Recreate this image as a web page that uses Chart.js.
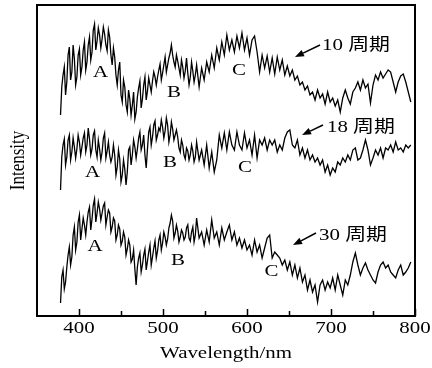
<!DOCTYPE html>
<html>
<head>
<meta charset="utf-8">
<script src="https://cdn.jsdelivr.net/npm/chart.js@4"></script>
<style>
    body { margin: 0; background: #fff; }
    #wrap { width: 432px; height: 368px; }
</style>
</head>
<body>
<div id="wrap"><canvas id="spectraChart"></canvas></div>
<script>
// sampled finer in the noisy short-wavelength part
const wavelengths = [378, 379.5, 381, 382.5, 384, 385.5, 387, 388.5, 390, 391.5, 393, 394.5, 396, 397.5, 399, 400.5,
    402, 403.5, 405, 406.5, 408, 409.5, 411, 412.5, 414, 415.5, 417, 418.5, 420, 421.5, 423, 424.5,
    426, 427.5, 429, 430.5, 432, 433.5, 435, 436.5, 438, 439.5, 441, 442.5, 444, 445.5, 447, 448.5,
    450, 451.5, 453, 454.5, 456, 457.5, 459, 460.5, 462, 463.5, 465, 466.5, 468, 469.5, 471, 472.5,
    474, 475.5, 477, 478.5, 480, 481.5, 483, 484.5, 486, 487.5, 489, 490.5, 492, 493.5, 495, 496.5,
    498, 499.5, 501, 502.5, 504, 505.5, 507, 508.5, 510, 511.5, 513, 514.5, 516, 517.5, 519, 520.5,
    522, 523.5, 525, 526.5, 528, 529.5, 531, 532.5, 534, 535.5, 537, 538.5, 540,
    543, 546, 549, 552, 555, 558, 561, 564, 567, 570, 573, 576, 579, 582, 585, 588, 591, 594, 597, 600,
    603, 606, 609, 612, 615, 618, 621, 624, 627, 630, 633, 636, 639, 642, 645, 648, 651, 654, 657, 660,
    663, 666, 669, 672, 675, 678, 681, 684, 687, 690, 693, 696, 699, 702, 705, 708, 711, 714, 717, 720,
    723, 726, 729, 732, 735, 738, 741, 744, 747, 750, 753, 756, 759, 762, 765, 768, 771, 774, 777, 780,
    783, 786, 789, 792, 795];

// intensity (arbitrary units, curves stacked with offsets as in the figure)
const cycles10 = [202, 230, 242, 250, 222, 235, 262, 270, 237, 245, 272, 258, 232, 240, 262, 268,
    242, 250, 267, 275, 247, 255, 272, 280, 257, 265, 287, 293, 267, 276, 289, 282,
    269, 278, 290, 283, 272, 266, 287, 280, 262, 252, 269, 260, 242, 232, 247, 255,
    222, 215, 237, 230, 212, 205, 227, 218, 202, 212, 225, 198, 205, 220, 229, 236,
    209, 218, 232, 240, 217, 226, 239, 232, 225, 236, 245, 240, 232, 240, 247, 253,
    237, 244, 252, 260, 245, 252, 259, 264, 272, 262, 255, 250, 262, 256, 249, 242,
    257, 250, 239, 246, 259, 244, 232, 240, 255, 246, 235, 242, 252,
    230, 249, 237, 255, 245, 262, 249, 269, 257, 275, 262, 282, 267, 277, 265, 281, 269, 284, 267, 279,
    262, 277, 281, 265, 245, 262, 249, 261, 245, 259, 243, 260, 247, 257, 242, 251, 241, 247, 237, 241,
    232, 235, 227, 231, 222, 225, 217, 227, 219, 223, 213, 225, 215, 219, 211, 217, 205, 219, 227, 219,
    213, 225, 229, 235, 227, 237, 229, 233, 214, 232, 242, 237, 245, 239, 243, 247, 245, 235, 225, 235,
    241, 243, 235, 225, 215];

const cycles18 = [127, 160, 172, 178, 152, 160, 177, 182, 157, 165, 179, 170, 159, 168, 182, 175,
    162, 170, 179, 184, 165, 172, 189, 178, 162, 168, 182, 186, 167, 160, 177, 168,
    157, 165, 179, 184, 159, 166, 175, 162, 155, 160, 172, 162, 142, 150, 167, 158,
    135, 142, 157, 148, 132, 145, 167, 170, 152, 162, 177, 170, 159, 168, 179, 185,
    167, 172, 182, 162, 149, 168, 185, 190, 172, 180, 192, 196, 177, 182, 189, 186,
    197, 190, 179, 186, 199, 192, 175, 182, 195, 188, 177, 182, 187, 180, 169, 165,
    177, 172, 162, 158, 169, 166, 157, 162, 172, 166, 155, 160, 175,
    157, 167, 152, 172, 149, 165, 145, 157, 182, 169, 184, 167, 185, 172, 167, 185, 172, 167, 184, 169,
    177, 162, 182, 159, 177, 172, 179, 167, 177, 172, 177, 165, 172, 167, 179, 185, 187, 172, 169, 177,
    162, 169, 159, 167, 157, 162, 155, 159, 152, 157, 145, 152, 142, 149, 145, 155, 152, 159, 155, 162,
    157, 167, 169, 157, 159, 167, 177, 167, 152, 159, 167, 162, 169, 159, 169, 167, 172, 165, 175, 167,
    169, 165, 172, 169, 172];

const cycles30 = [14, 40, 47, 28, 35, 50, 62, 70, 52, 60, 82, 90, 67, 75, 95, 102,
    77, 88, 99, 92, 82, 95, 105, 110, 87, 98, 112, 118, 95, 104, 115, 108,
    97, 104, 111, 114, 92, 100, 107, 104, 85, 90, 99, 96, 77, 82, 92, 88,
    72, 76, 85, 80, 62, 68, 77, 72, 55, 58, 67, 48, 32, 50, 59, 64,
    45, 52, 62, 68, 47, 56, 65, 72, 52, 60, 69, 76, 59, 66, 77, 82,
    67, 74, 85, 80, 72, 78, 89, 94, 102, 96, 79, 84, 92, 86, 75, 80,
    87, 84, 77, 80, 89, 92, 79, 76, 85, 90, 75, 82, 99,
    79, 85, 72, 87, 75, 97, 79, 85, 72, 89, 77, 85, 92, 77, 85, 72, 79, 69, 77, 67,
    72, 62, 77, 65, 72, 59, 69, 79, 82, 59, 65, 62, 59, 52, 57, 47, 55, 42, 52, 39,
    49, 35, 42, 27, 37, 25, 32, 15, 32, 37, 27, 35, 29, 39, 27, 42, 32, 22, 37, 32,
    42, 55, 64, 52, 42, 49, 54, 47, 42, 37, 34, 45, 52, 55, 49, 52, 45, 42, 39, 47,
    52, 42, 45, 49, 55];

const xMajorTicks = [400, 500, 600, 700, 800];
const xMinorTicks = [450, 550, 650, 750];

// peak letters: [text, wavelength, intensity]
const peakLabels = [
    ['A', 425.6, 246], ['B', 513.1, 226], ['C', 590.5, 248],
    ['A', 416.1, 146], ['B', 508.3, 156], ['C', 597.6, 151],
    ['A', 419.0, 72], ['B', 517.9, 58], ['C', 629.2, 47]
];

// curve names: [text, text x, text y, arrow tail x, tail y, tip x, tip y]
const curveLabels = [
    ['10 周期', 689.3, 267, 686.9, 272, 657.1, 260],
    ['18 周期', 695.2, 185, 690.5, 192, 665.5, 182],
    ['30 周期', 685.7, 77, 682.1, 84, 654.8, 72]
];

const FONT = '17px "Liberation Serif", "Noto Sans CJK SC", serif';
const STRETCH = 1.23;

function stretchedText(ctx, text, x, y, align) {
    ctx.save();
    ctx.translate(x, y);
    ctx.scale(STRETCH, 1);
    ctx.textAlign = align;
    ctx.fillText(text, 0, 0);
    ctx.restore();
}

const decorPlugin = {
    id: 'decor',
    afterDraw(chart) {
        const ctx = chart.ctx;
        const area = chart.chartArea;
        const xs = chart.scales.x;
        const ys = chart.scales.y;

        ctx.save();
        ctx.strokeStyle = '#000';
        ctx.fillStyle = '#000';

        // frame
        ctx.lineWidth = 2;
        ctx.strokeRect(area.left, area.top, area.right - area.left, area.bottom - area.top);

        // inward ticks on bottom axis
        ctx.lineWidth = 1.5;
        ctx.beginPath();
        xMajorTicks.forEach(v => {
            const px = Math.round(xs.getPixelForValue(v)) + 0.5;
            ctx.moveTo(px, area.bottom);
            ctx.lineTo(px, area.bottom - 7);
        });
        xMinorTicks.forEach(v => {
            const px = Math.round(xs.getPixelForValue(v)) + 0.5;
            ctx.moveTo(px, area.bottom);
            ctx.lineTo(px, area.bottom - 5);
        });
        ctx.stroke();

        ctx.font = FONT;
        ctx.textBaseline = 'alphabetic';
        xMajorTicks.forEach(v => {
            stretchedText(ctx, String(v), xs.getPixelForValue(v), area.bottom + 17, 'center');
        });
        stretchedText(ctx, 'Wavelength/nm', (area.left + area.right) / 2, area.bottom + 42, 'center');

        // y title
        ctx.save();
        ctx.translate(24, (area.top + area.bottom) / 2);
        ctx.scale(STRETCH, 1);
        ctx.rotate(-Math.PI / 2);
        ctx.textAlign = 'center';
        ctx.fillText('Intensity', 0, 0);
        ctx.restore();

        // peak letters
        peakLabels.forEach(([t, wl, h]) => {
            stretchedText(ctx, t, xs.getPixelForValue(wl), ys.getPixelForValue(h) + 6, 'center');
        });

        // curve names with arrows
        ctx.lineWidth = 1.5;
        curveLabels.forEach(([t, tx, ty, ax, ay, bx, by]) => {
            stretchedText(ctx, t, xs.getPixelForValue(tx), ys.getPixelForValue(ty), 'left');
            const x1 = xs.getPixelForValue(ax), y1 = ys.getPixelForValue(ay);
            const x2 = xs.getPixelForValue(bx), y2 = ys.getPixelForValue(by);
            const ang = Math.atan2(y2 - y1, x2 - x1);
            const len = 9, wid = 3.5;
            const bxp = x2 - len * Math.cos(ang), byp = y2 - len * Math.sin(ang);
            ctx.beginPath();
            ctx.moveTo(x1, y1);
            ctx.lineTo(bxp, byp);
            ctx.stroke();
            ctx.beginPath();
            ctx.moveTo(x2, y2);
            ctx.lineTo(bxp + wid * Math.sin(ang), byp - wid * Math.cos(ang));
            ctx.lineTo(bxp - wid * Math.sin(ang), byp + wid * Math.cos(ang));
            ctx.closePath();
            ctx.fill();
        });

        ctx.restore();
    }
};

function series(values) {
    return {
        data: values.map((v, i) => ({ x: wavelengths[i], y: v })),
        borderColor: '#000',
        borderWidth: 1.3,
        pointRadius: 0,
        tension: 0,
        fill: false
    };
}

new Chart(document.getElementById('spectraChart'), {
    type: 'line',
    data: {
        datasets: [series(cycles10), series(cycles18), series(cycles30)]
    },
    options: {
        responsive: true,
        maintainAspectRatio: false,
        devicePixelRatio: 1,
        animation: false,
        layout: { padding: { left: 37, right: 17, top: 5, bottom: 52 } },
        plugins: {
            legend: { display: false },
            tooltip: { enabled: false }
        },
        scales: {
            x: { type: 'linear', min: 350, max: 800, display: false },
            y: { min: 1, max: 312, display: false }
        }
    },
    plugins: [decorPlugin]
});
</script>
</body>
</html>
